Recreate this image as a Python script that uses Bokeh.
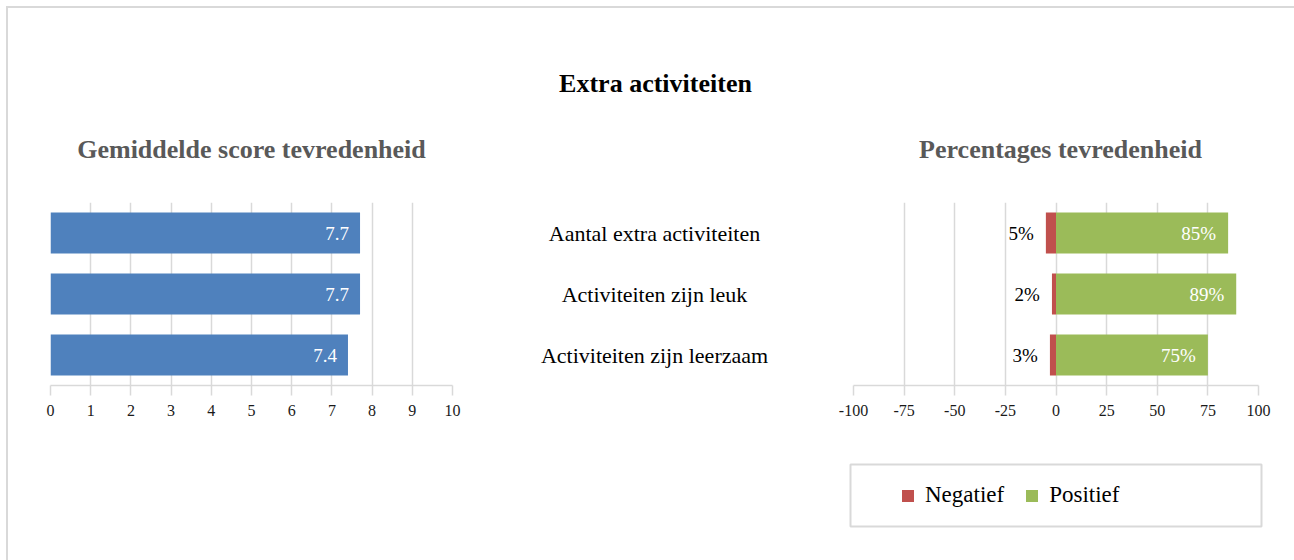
from bokeh.plotting import figure
from bokeh.models import (Range1d, FactorRange, FixedTicker, ColumnDataSource, Label,
                          Legend, LegendItem, Spacer)
from bokeh.layouts import row, column
from bokeh.embed import file_html
from bokeh.resources import INLINE
from bokeh.core.properties import value

# ---------------- data ----------------
categories = ["Aantal extra activiteiten", "Activiteiten zijn leuk", "Activiteiten zijn leerzaam"]
scores = [7.7, 7.7, 7.4]
negatief = [5, 2, 3]
positief = [85, 89, 75]
score_ticks = [0, 1, 2, 3, 4, 5, 6, 7, 8, 9, 10]
pct_ticks = [-100, -75, -50, -25, 0, 25, 50, 75, 100]
main_title = "Extra activiteiten"
subtitle_left = "Gemiddelde score tevredenheid"
subtitle_right = "Percentages tevredenheid"
legend_labels = ["Negatief", "Positief"]

# ---------------- style ----------------
FONT = "Liberation Serif"
GRID = "#d9d9d9"
BLUE = "#4f81bd"
RED = "#c0504d"
GREEN = "#9bbb59"
SUB = "#595959"

y_factors = list(reversed(categories))
yr = FactorRange(factors=y_factors, range_padding=0)

TOP, FRAME_H, BOTTOM = 30, 183, 45
H = TOP + FRAME_H + BOTTOM


def blank_fig(w, h, xr, yrng, **kw):
    p = figure(width=w, height=h, x_range=xr, y_range=yrng, output_backend="svg",
               toolbar_location=None, x_axis_location=None, y_axis_location=None,
               min_border_left=0, min_border_right=0, min_border_top=0,
               min_border_bottom=0, outline_line_color=None, **kw)
    p.grid.visible = False
    return p


def style_axis(p, ticks):
    ax = p.xaxis[0]
    ax.ticker = FixedTicker(ticks=ticks)
    ax.major_label_overrides = {t: str(t) for t in ticks}
    ax.axis_line_color = GRID
    ax.axis_line_width = 1.5
    ax.major_tick_line_color = GRID
    ax.major_tick_line_width = 1.5
    ax.major_tick_out = 10
    ax.major_tick_in = 0
    ax.minor_tick_line_color = None
    ax.major_label_text_font = FONT
    ax.major_label_text_font_size = "16px"
    ax.major_label_text_color = "#1a1a1a"
    ax.major_label_standoff = 9
    p.xgrid.ticker = FixedTicker(ticks=ticks)
    p.xgrid.grid_line_color = GRID
    p.xgrid.grid_line_width = 1.5
    p.ygrid.visible = False


# ---------------- header: titles ----------------
HW, HH = 1286, 164
header = blank_fig(HW, HH, Range1d(0, HW), Range1d(HH, 0))
header.add_layout(Label(x=647, y=75, text=main_title, text_align="center",
                        text_baseline="alphabetic", text_font=FONT,
                        text_font_style="bold", text_font_size="26px", text_color="black"))
header.add_layout(Label(x=243, y=141, text=subtitle_left, text_align="center",
                        text_baseline="alphabetic", text_font=FONT,
                        text_font_style="bold", text_font_size="26px", text_color=SUB))
header.add_layout(Label(x=1052, y=141, text=subtitle_right, text_align="center",
                        text_baseline="alphabetic", text_font=FONT,
                        text_font_style="bold", text_font_size="26px", text_color=SUB))

# ---------------- left: mean scores ----------------
srcL = ColumnDataSource(dict(cat=categories, score=scores,
                             label=[f"{s:.1f}" for s in scores]))
pL = figure(width=490, height=H, x_range=Range1d(0, 10), y_range=yr,
            output_backend="svg", toolbar_location=None, y_axis_location=None,
            min_border_left=42, min_border_right=46, min_border_top=TOP,
            min_border_bottom=BOTTOM, outline_line_color=None)
style_axis(pL, score_ticks)
pL.hbar(y="cat", left=0, right="score", height=0.67, source=srcL,
        fill_color=BLUE, line_color=None)
pL.text(x="score", y="cat", text="label", source=srcL, x_offset=-11,
        text_align="right", text_baseline="middle", text_color="white",
        text_font=value(FONT), text_font_size="19px")

# ---------------- middle: category labels ----------------
pM = figure(width=312, height=H, x_range=Range1d(-1, 1), y_range=yr,
            output_backend="svg", toolbar_location=None,
            x_axis_location=None, y_axis_location=None,
            min_border_left=0, min_border_right=0, min_border_top=TOP,
            min_border_bottom=BOTTOM, outline_line_color=None)
pM.grid.visible = False
srcM = ColumnDataSource(dict(cat=categories, x=[0] * len(categories)))
pM.text(x="x", y="cat", text="cat", source=srcM, text_align="center",
        text_baseline="middle", text_color="black",
        text_font=value(FONT), text_font_size="22px")

# ---------------- right: percentages ----------------
srcR = ColumnDataSource(dict(cat=categories,
                             neg=[-v for v in negatief], pos=positief,
                             neg_label=[f"{v}%" for v in negatief],
                             pos_label=[f"{v}%" for v in positief]))
pR = figure(width=484, height=H, x_range=Range1d(-100, 100), y_range=yr,
            output_backend="svg", toolbar_location=None, y_axis_location=None,
            min_border_left=43, min_border_right=36, min_border_top=TOP,
            min_border_bottom=BOTTOM, outline_line_color=None)
style_axis(pR, pct_ticks)
pR.hbar(y="cat", left="neg", right=0, height=0.67, source=srcR,
        fill_color=RED, line_color=None)
pR.hbar(y="cat", left=0, right="pos", height=0.67, source=srcR,
        fill_color=GREEN, line_color=None)
pR.text(x="neg", y="cat", text="neg_label", source=srcR, x_offset=-12,
        text_align="right", text_baseline="middle", text_color="black",
        text_font=value(FONT), text_font_size="19px")
pR.text(x="pos", y="cat", text="pos_label", source=srcR, x_offset=-12,
        text_align="right", text_baseline="middle", text_color="white",
        text_font=value(FONT), text_font_size="19px")

# ---------------- legend box ----------------
leg = figure(width=415, height=66, x_range=Range1d(0, 1), y_range=Range1d(0, 1),
             output_backend="svg", toolbar_location=None,
             x_axis_location=None, y_axis_location=None,
             min_border_left=2, min_border_right=2, min_border_top=2,
             min_border_bottom=2, outline_line_color=GRID, outline_line_width=2)
leg.grid.visible = False
# hidden swatch renderers, only used to draw the legend glyphs
swatch = ColumnDataSource(dict(y=[0.5], right=[1]))
gn = leg.hbar(y="y", right="right", left=0, height=0.5, source=swatch,
              fill_color=RED, line_color=None, visible=False)
gp = leg.hbar(y="y", right="right", left=0, height=0.5, source=swatch,
              fill_color=GREEN, line_color=None, visible=False)
legend = Legend(items=[LegendItem(label=legend_labels[0], renderers=[gn]),
                       LegendItem(label=legend_labels[1], renderers=[gp])],
                orientation="horizontal", location="left", margin=50,
                glyph_width=15, glyph_height=15, label_standoff=10, spacing=20,
                padding=0, border_line_color=None, inactive_fill_alpha=0,
                background_fill_alpha=0, label_text_font=FONT,
                label_text_font_size="23px", label_text_color="black")
leg.add_layout(legend)

footer = column(Spacer(height=32), row(Spacer(width=840), leg), Spacer(height=32))

inner = column(header, row(pL, pM, pR), footer,
               styles={"border-left": "2px solid #d9d9d9",
                       "border-top": "2px solid #d9d9d9"})
layout = column(Spacer(height=6), row(Spacer(width=6), inner))

open("out.html", "w").write(file_html(layout, INLINE))
